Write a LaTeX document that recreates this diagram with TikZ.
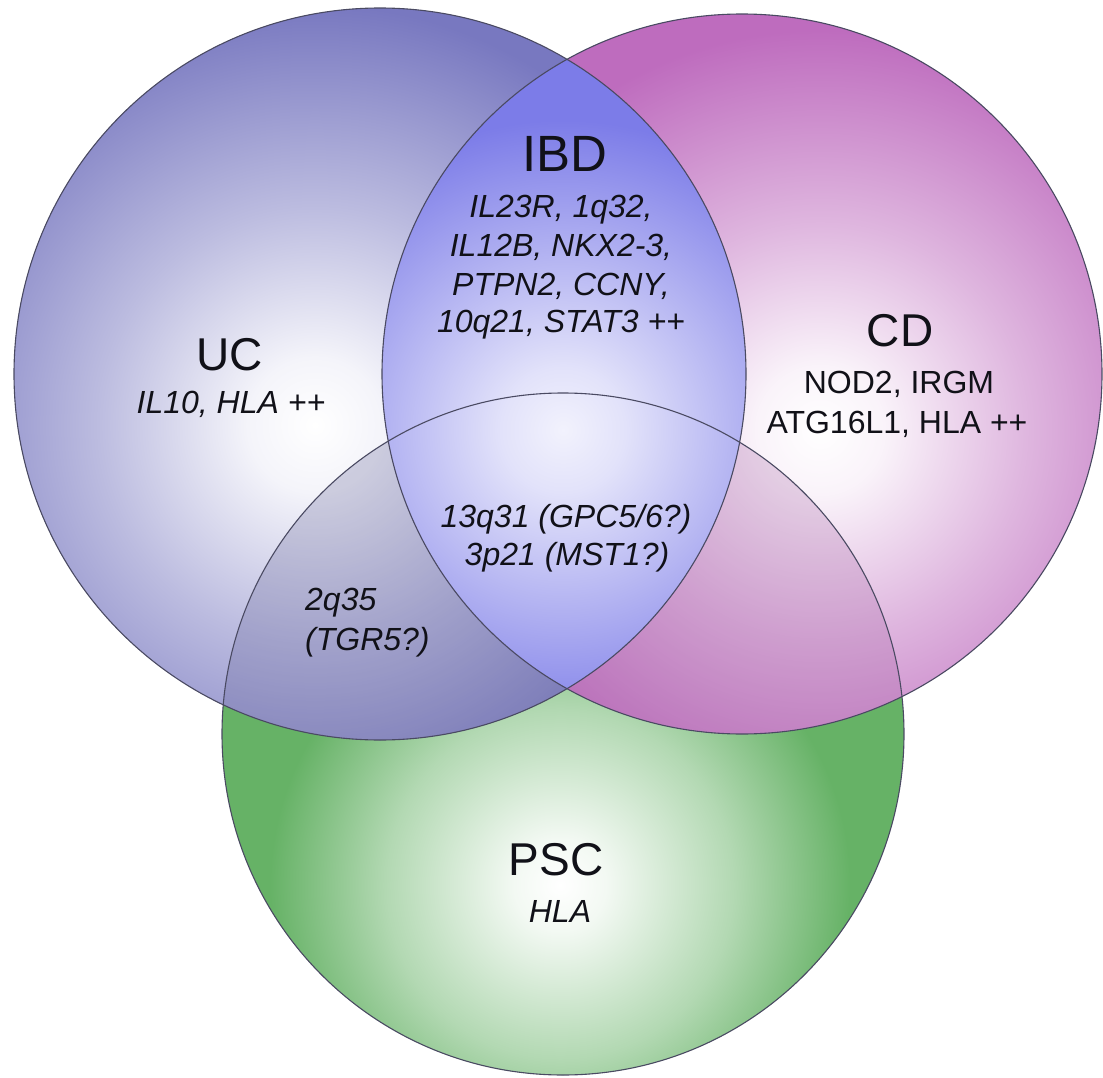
\documentclass[tikz,border=0pt]{standalone}
\usepackage{fontspec}
\setmainfont{Liberation Sans}
\definecolor{ucedge}{HTML}{7878C0}
\definecolor{cdedge}{HTML}{BE6CBE}
\definecolor{psedge}{HTML}{66B266}
\definecolor{lensedge}{HTML}{7C7CE8}
\definecolor{lineC}{HTML}{4A4A62}
\definecolor{txt}{HTML}{111118}
\pgfdeclareradialshading{ucshade}{\pgfpoint{0bp}{0bp}}{color(0bp)=(white); color(4bp)=(white!92!ucedge); color(13bp)=(white!50!ucedge); color(25bp)=(ucedge); color(50bp)=(ucedge)}
\pgfdeclareradialshading{cdshade}{\pgfpoint{0bp}{0bp}}{color(0bp)=(white); color(4bp)=(white!92!cdedge); color(13bp)=(white!50!cdedge); color(25bp)=(cdedge); color(50bp)=(cdedge)}
\pgfdeclareradialshading{psshade}{\pgfpoint{0bp}{0bp}}{color(0bp)=(white); color(4bp)=(white!92!psedge); color(15bp)=(white!50!psedge); color(25bp)=(psedge); color(50bp)=(psedge)}
\pgfdeclareradialshading{lensshade}{\pgfpoint{0bp}{0bp}}{color(0bp)=(white!90!lensedge); color(5bp)=(white!78!lensedge); color(16bp)=(white!35!lensedge); color(25bp)=(lensedge); color(50bp)=(lensedge)}
\begin{document}
\begin{tikzpicture}[x=1pt,y=-1pt,
  outline/.style={draw=lineC, line width=1.1pt},
  big/.style={font=\fontsize{46}{50}\selectfont, anchor=base, inner sep=0, text=txt},
  gene/.style={font=\fontsize{32}{37}\selectfont\itshape, anchor=base, inner sep=0, text=txt},
  generm/.style={font=\fontsize{32}{37}\selectfont, anchor=base, inner sep=0, text=txt}]
\useasboundingbox (0,0) rectangle (1103,1078);
\coordinate (ucC) at (380,374);
\coordinate (cdC) at (742,374);
\coordinate (psC) at (563,734);
% PSC
\begin{scope}
  \clip (psC) circle (341pt);
  \fill[psedge] (psC) circle (341pt);
  \shade[shading=psshade] (560,885) circle (290pt);
\end{scope}
% UC
\begin{scope}
  \clip (ucC) circle (366pt);
  \fill[ucedge] (ucC) circle (366pt);
  \shade[shading=ucshade] (315,425) circle (420pt);
\end{scope}
% CD
\begin{scope}
  \clip (cdC) circle (360pt);
  \fill[cdedge] (cdC) circle (360pt);
  \shade[shading=cdshade] (820,430) circle (400pt);
\end{scope}
% tint of overlaps with PSC
\begin{scope}
  \clip (psC) circle (341pt);
  \fill[ucedge!75!black, opacity=0.26] (ucC) circle (366pt);
  \fill[cdedge!85!black, opacity=0.25] (cdC) circle (360pt);
\end{scope}
% IBD lens
\begin{scope}
  \clip (ucC) circle (366pt);
  \clip (cdC) circle (360pt);
  \fill[lensedge] (ucC) circle (366pt);
  \shade[shading=lensshade] (563,430) circle (310pt);
\end{scope}
% outlines
\draw[outline] (psC) circle (341pt);
\draw[outline] (ucC) circle (366pt);
\draw[outline] (cdC) circle (360pt);
% texts
\node[big, font=\fontsize{51}{55}\selectfont] (ibd) at (565,172) {IBD};
\node[gene] (ibd1) at (561,218) {IL23R, 1q32,};
\node[gene] (ibd2) at (561,257) {IL12B, NKX2-3,};
\node[gene] (ibd3) at (561,295) {PTPN2, CCNY,};
\node[gene] (ibd4) at (561,332) {10q21, STAT3 ++};
\node[big] (uc) at (230,370) {UC};
\node[gene] (ucg) at (231,413) {IL10, HLA ++};
\node[big] (cd) at (900,346) {CD};
\node[generm] (cdg1) at (899,393) {NOD2, IRGM};
\node[generm] (cdg2) at (897,433) {ATG16L1, HLA ++};
\node[gene] (tri1) at (566,527) {13q31 (GPC5/6?)};
\node[gene] (tri2) at (567,565) {3p21 (MST1?)};
\node[gene, anchor=base west] (up1) at (305,610) {2q35};
\node[gene, anchor=base west] (up2) at (305,650) {(TGR5?)};
\node[big] (psc) at (556,875) {PSC};
\node[gene] (pscg) at (560,922) {HLA};
\end{tikzpicture}
\end{document}
